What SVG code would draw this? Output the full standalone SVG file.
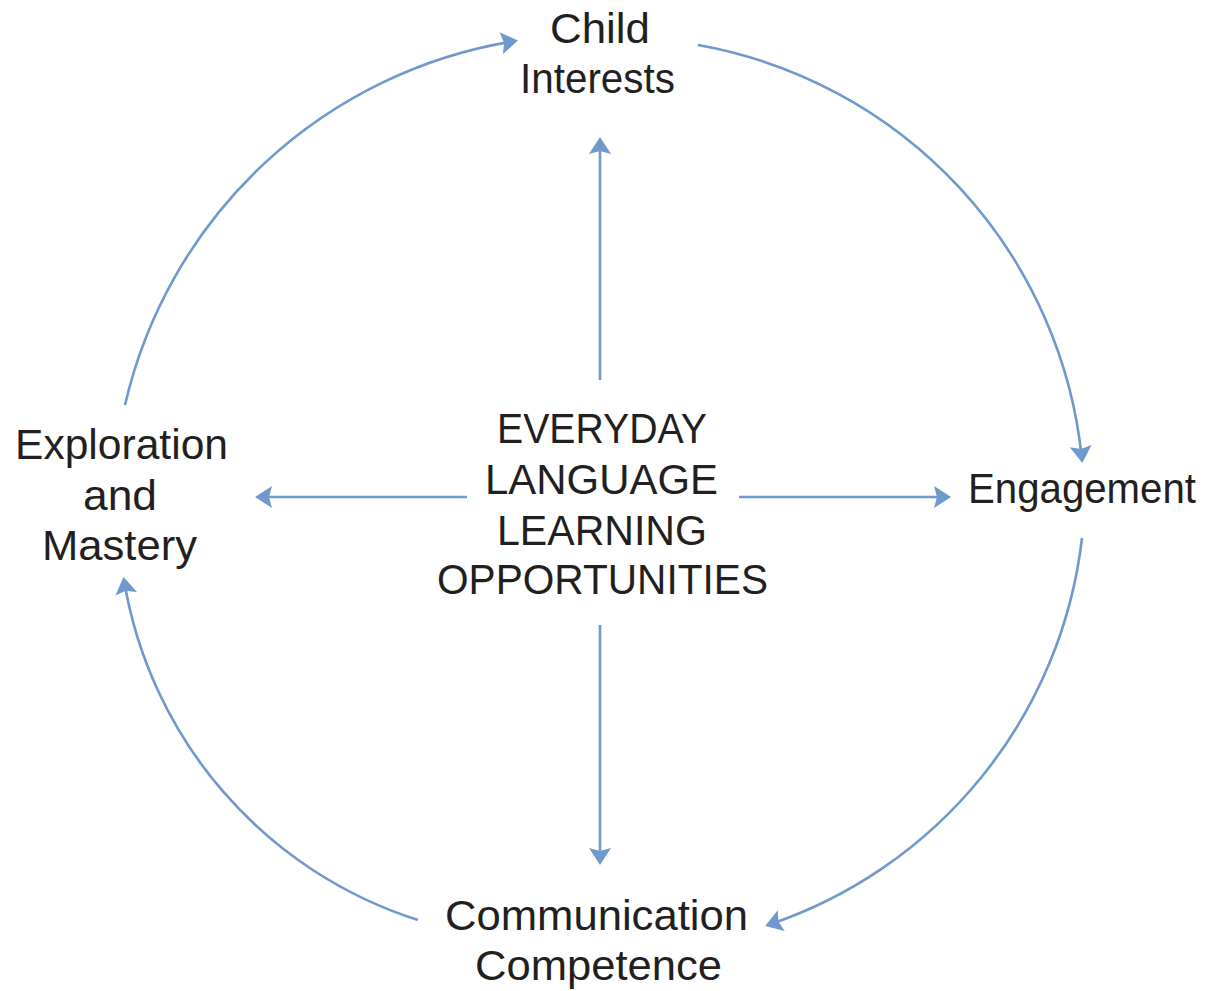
<svg xmlns="http://www.w3.org/2000/svg" width="1210" height="991" viewBox="0 0 1210 991">
<defs>
<style>
.lbl{font-family:"Liberation Sans",Arial,sans-serif;font-size:43px;fill:#231f20;}
.con{fill:none;stroke:#6f98cc;stroke-width:2.6;marker-end:url(#ah);}
</style>
<marker id="ah" markerUnits="userSpaceOnUse" viewBox="0 0 17 22" refX="14" refY="11" markerWidth="17" markerHeight="22" orient="auto">
<path d="M0,0 L17,11 L0,22 L3,11 Z" fill="#6f98cc"/>
</marker>
</defs>
<rect width="1210" height="991" fill="#ffffff"/>
<g id="connectors">
<path class="con" d="M125,405 A477,477 0 0 1 515,41"/>
<path class="con" d="M698,45 A468,468 0 0 1 1082,460"/>
<path class="con" d="M1082,538 A464,464 0 0 1 768,925"/>
<path class="con" d="M418,920 A430,430 0 0 1 124,580"/>
<path class="con" d="M600,380 L600,140"/>
<path class="con" d="M600,625 L600,862"/>
<path class="con" d="M467,497 L258,497"/>
<path class="con" d="M739,497 L948,497"/>
</g>
<g id="center">
<text class="lbl" x="497" y="443" textLength="210" lengthAdjust="spacingAndGlyphs">EVERYDAY</text>
<text class="lbl" x="485" y="494" textLength="233" lengthAdjust="spacingAndGlyphs">LANGUAGE</text>
<text class="lbl" x="497" y="545" textLength="210" lengthAdjust="spacingAndGlyphs">LEARNING</text>
<text class="lbl" x="437" y="594" textLength="331" lengthAdjust="spacingAndGlyphs">OPPORTUNITIES</text>
</g>
<g id="child-interests">
<text class="lbl" x="550" y="43" textLength="100" lengthAdjust="spacingAndGlyphs">Child</text>
<text class="lbl" x="520" y="93" textLength="155" lengthAdjust="spacingAndGlyphs">Interests</text>
</g>
<g id="engagement">
<text class="lbl" x="968" y="503" textLength="228" lengthAdjust="spacingAndGlyphs">Engagement</text>
</g>
<g id="communication-competence">
<text class="lbl" x="445" y="930" textLength="303" lengthAdjust="spacingAndGlyphs">Communication</text>
<text class="lbl" x="475" y="980" textLength="247" lengthAdjust="spacingAndGlyphs">Competence</text>
</g>
<g id="exploration-mastery">
<text class="lbl" x="15" y="459" textLength="213" lengthAdjust="spacingAndGlyphs">Exploration</text>
<text class="lbl" x="83" y="510" textLength="74" lengthAdjust="spacingAndGlyphs">and</text>
<text class="lbl" x="42" y="560" textLength="155" lengthAdjust="spacingAndGlyphs">Mastery</text>
</g>
</svg>
